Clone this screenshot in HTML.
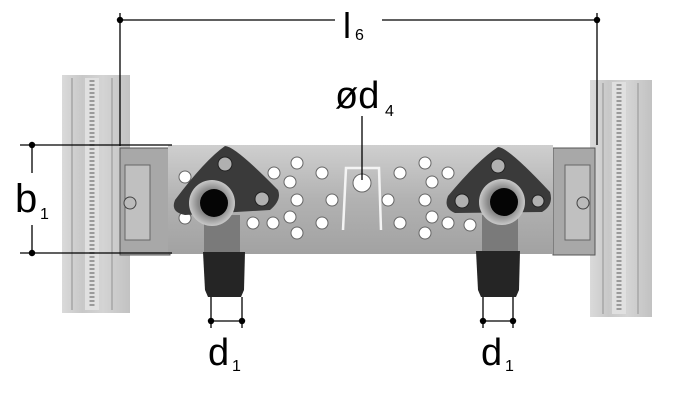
<!DOCTYPE html>
<html><head><meta charset="utf-8"><style>
html,body{margin:0;padding:0;background:#fff;}
svg{display:block;}
text{font-family:"Liberation Sans",sans-serif;fill:#000;}
</style></head><body>
<svg width="689" height="406" viewBox="0 0 689 406" xmlns="http://www.w3.org/2000/svg">
<defs>
<linearGradient id="rail" x1="0" x2="1" y1="0" y2="0">
<stop offset="0" stop-color="#dadada"/><stop offset="0.3" stop-color="#c8c8c8"/><stop offset="0.6" stop-color="#d4d4d4"/><stop offset="1" stop-color="#c2c2c2"/>
</linearGradient>
<linearGradient id="bar" x1="0" x2="0" y1="0" y2="1">
<stop offset="0" stop-color="#cfcfcf"/><stop offset="0.5" stop-color="#b2b2b2"/><stop offset="1" stop-color="#a2a2a2"/>
</linearGradient>
<radialGradient id="pipe"><stop offset="0.6" stop-color="#888"/><stop offset="1" stop-color="#c8c8c8"/></radialGradient>
</defs>
<!-- rails -->
<rect x="62" y="75" width="68" height="238" fill="url(#rail)"/>
<line x1="72" y1="78" x2="72" y2="310" stroke="#b0b0b0" stroke-width="2"/>
<line x1="112" y1="78" x2="112" y2="310" stroke="#b0b0b0" stroke-width="2"/>
<rect x="85" y="78" width="14" height="232" fill="#e0e0e0"/>
<line x1="92" y1="80" x2="92" y2="308" stroke="#9a9a9a" stroke-width="5" stroke-dasharray="2 2"/>
<rect x="590" y="80" width="62" height="237" fill="url(#rail)"/>
<line x1="603" y1="83" x2="603" y2="314" stroke="#b0b0b0" stroke-width="2"/>
<line x1="638" y1="83" x2="638" y2="314" stroke="#b0b0b0" stroke-width="2"/>
<rect x="612" y="82" width="14" height="232" fill="#e0e0e0"/>
<line x1="619" y1="84" x2="619" y2="312" stroke="#9a9a9a" stroke-width="5" stroke-dasharray="2 2"/>
<!-- brackets -->
<rect x="120" y="148" width="50" height="107" fill="#a8a8a8" stroke="#555" stroke-width="1"/>
<rect x="125" y="165" width="25" height="75" fill="#c0c0c0" stroke="#666"/>
<circle cx="130" cy="203" r="6" fill="#bbb" stroke="#444"/>
<rect x="553" y="148" width="42" height="107" fill="#a8a8a8" stroke="#555" stroke-width="1"/>
<rect x="565" y="165" width="25" height="75" fill="#c0c0c0" stroke="#666"/>
<circle cx="583" cy="203" r="6" fill="#bbb" stroke="#444"/>
<!-- bar -->
<rect x="168" y="145" width="385" height="109" fill="url(#bar)"/>
<!-- holes -->
<g fill="#fff" stroke="#666" stroke-width="1">
<circle cx="274" cy="173" r="6"/><circle cx="297" cy="163" r="6"/><circle cx="290" cy="182" r="6"/><circle cx="297" cy="200" r="6"/><circle cx="290" cy="217" r="6"/><circle cx="273" cy="223" r="6"/><circle cx="253" cy="223" r="6"/><circle cx="297" cy="233" r="6"/><circle cx="322" cy="173" r="6"/><circle cx="332" cy="200" r="6"/><circle cx="322" cy="223" r="6"/><circle cx="185" cy="218" r="6"/><circle cx="185" cy="177" r="6"/>
<circle cx="400" cy="173" r="6"/><circle cx="425" cy="163" r="6"/><circle cx="432" cy="182" r="6"/><circle cx="425" cy="200" r="6"/><circle cx="432" cy="217" r="6"/><circle cx="425" cy="233" r="6"/><circle cx="400" cy="223" r="6"/><circle cx="388" cy="200" r="6"/><circle cx="448" cy="173" r="6"/><circle cx="448" cy="223" r="6"/><circle cx="470" cy="225" r="6"/>
<circle cx="362" cy="183" r="9"/>
</g>
<path d="M343 230 L346 168 L379 168 L381 230" fill="none" stroke="#f4f4f4" stroke-width="2.5"/>
<!-- left fitting -->
<path d="M225 146 Q235 146 278 190 Q282 200 270 210 L185 215 Q170 212 175 200 Q205 160 225 146Z" fill="#3a3a3a"/>
<circle cx="225" cy="164" r="7" fill="#b0b0b0" stroke="#222"/>
<circle cx="262" cy="199" r="7" fill="#b0b0b0" stroke="#222"/>
<rect x="204" y="215" width="36" height="40" fill="#7a7a7a"/>
<circle cx="212" cy="203" r="23" fill="url(#pipe)"/>
<circle cx="214" cy="203" r="14" fill="#050505"/>
<path d="M203 252 L245 252 L244 290 L241 297 L208 297 L205 290Z" fill="#252525"/>
<!-- right fitting -->
<path d="M498 147 Q508 147 550 192 Q554 205 542 212 L455 213 Q443 208 448 196 Q478 160 498 147Z" fill="#3a3a3a"/>
<circle cx="498" cy="166" r="7" fill="#b0b0b0" stroke="#222"/>
<circle cx="462" cy="201" r="7" fill="#b0b0b0" stroke="#222"/>
<circle cx="538" cy="201" r="6" fill="#b0b0b0" stroke="#222"/>
<rect x="482" y="215" width="36" height="40" fill="#7a7a7a"/>
<circle cx="502" cy="202" r="23" fill="url(#pipe)"/>
<circle cx="504" cy="202" r="14" fill="#050505"/>
<path d="M476 251 L520 251 L519 290 L516 297 L481 297 L478 290Z" fill="#252525"/>
<!-- dimension lines -->
<g stroke="#000" stroke-width="1.3" fill="none">
<line x1="120" y1="20" x2="335" y2="20"/><line x1="382" y1="20" x2="597" y2="20"/>
<line x1="120" y1="13" x2="120" y2="146"/><line x1="597" y1="13" x2="597" y2="145"/>
<line x1="20" y1="145" x2="172" y2="145"/><line x1="20" y1="253" x2="172" y2="253"/>
<line x1="32" y1="145" x2="32" y2="173"/><line x1="32" y1="225" x2="32" y2="253"/>
<line x1="362" y1="116" x2="362" y2="180"/>
<line x1="211" y1="297" x2="211" y2="328"/><line x1="242" y1="297" x2="242" y2="328"/><line x1="211" y1="321" x2="242" y2="321"/>
<line x1="483" y1="297" x2="483" y2="328"/><line x1="513" y1="297" x2="513" y2="328"/><line x1="483" y1="321" x2="513" y2="321"/>
</g>
<g fill="#000">
<circle cx="120" cy="20" r="3.2"/><circle cx="597" cy="20" r="3.2"/>
<circle cx="32" cy="145" r="3.2"/><circle cx="32" cy="253" r="3.2"/>
<circle cx="211" cy="321" r="3.2"/><circle cx="242" cy="321" r="3.2"/>
<circle cx="483" cy="321" r="3.2"/><circle cx="513" cy="321" r="3.2"/>
</g>
<!-- labels -->
<text x="343" y="38" font-size="36">l</text><text x="355" y="40" font-size="16">6</text>
<text x="15" y="212" font-size="40">b</text><text x="40" y="219" font-size="16">1</text>
<text x="335" y="108" font-size="38">ød</text><text x="385" y="116" font-size="16">4</text>
<text x="208" y="365" font-size="38">d</text><text x="232" y="371" font-size="16">1</text>
<text x="481" y="365" font-size="38">d</text><text x="505" y="371" font-size="16">1</text>
</svg>
</body></html>
